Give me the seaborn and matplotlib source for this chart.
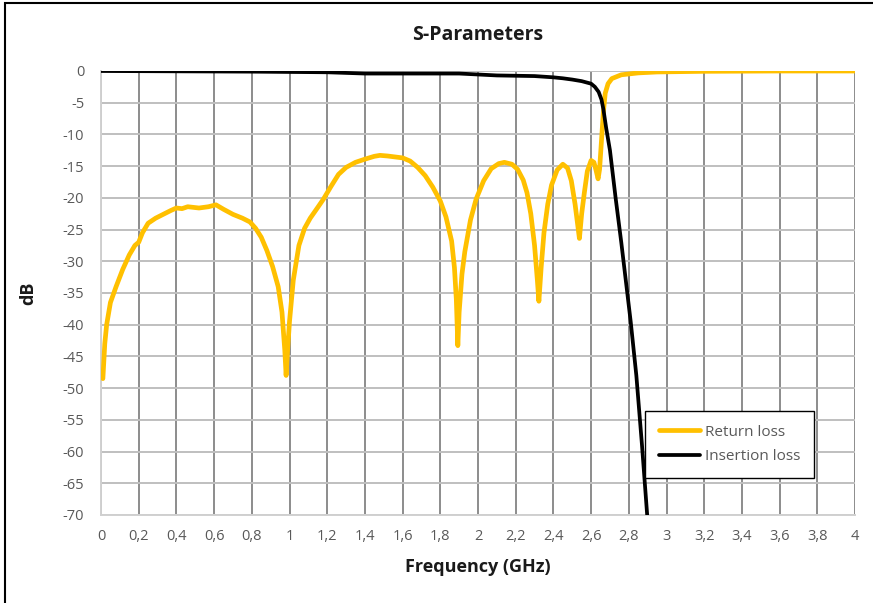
import matplotlib
matplotlib.use("Agg")
import matplotlib.pyplot as plt
import matplotlib.ticker as mticker
from matplotlib.patches import Rectangle
import seaborn as sns
import pandas as pd

# ---- data ----
rl_freq = [0.01, 0.02, 0.03, 0.05, 0.08, 0.115, 0.15, 0.18, 0.2, 0.22, 0.25, 0.29, 0.33, 0.37,
           0.4, 0.43, 0.46, 0.52, 0.57, 0.61, 0.65, 0.70, 0.75, 0.79, 0.82, 0.85, 0.88, 0.91,
           0.94, 0.96, 0.975, 0.982, 0.99, 1.0, 1.02, 1.05, 1.08, 1.11, 1.15, 1.18, 1.22, 1.26,
           1.30, 1.35, 1.40, 1.45, 1.48, 1.52, 1.6, 1.64, 1.68, 1.72, 1.76, 1.80, 1.83, 1.86,
           1.875, 1.885, 1.893, 1.90, 1.915, 1.93, 1.96, 1.99, 2.03, 2.07, 2.11, 2.14, 2.18,
           2.21, 2.24, 2.26, 2.28, 2.30, 2.315, 2.323, 2.335, 2.35, 2.37, 2.39, 2.42, 2.45,
           2.475, 2.495, 2.515, 2.53, 2.538, 2.55, 2.565, 2.58, 2.60, 2.615, 2.625, 2.637,
           2.645, 2.655, 2.665, 2.675, 2.69, 2.71, 2.76, 2.85, 2.95, 3.2, 3.6, 4.0]
rl_db = [-48.5, -43, -40, -36.5, -34, -31.3, -29, -27.5, -27, -25.5, -24, -23.2, -22.6, -22,
         -21.6, -21.7, -21.4, -21.6, -21.4, -21.1, -21.8, -22.6, -23.2, -23.8, -24.8, -26.2,
         -28.3, -30.8, -34, -38, -44, -48, -44, -39.5, -33, -27.5, -24.8, -23.2, -21.5, -20.2,
         -18.2, -16.3, -15.2, -14.4, -13.9, -13.45, -13.3, -13.4, -13.7, -14.2, -15.2, -16.5,
         -18.3, -20.5, -23, -26.8, -31, -36, -43.3, -38, -32, -28.5, -23.5, -20.2, -17.3,
         -15.4, -14.6, -14.4, -14.7, -15.5, -17.2, -19.2, -22.5, -27.5, -33, -36.3, -31,
         -25.5, -21, -18, -15.6, -14.7, -15.3, -17.3, -21, -24.5, -26.4, -22.5, -19, -15.8,
         -14.1, -14.4, -15.5, -17, -15.5, -11, -6.5, -3.5, -2, -1.2, -0.6, -0.3, -0.15,
         -0.05, 0, 0]

il_freq = [0, 0.4, 0.8, 1.0, 1.2, 1.4, 1.6, 1.8, 1.9, 2.0, 2.1, 2.2, 2.3, 2.4, 2.45, 2.5,
           2.55, 2.6, 2.62, 2.64, 2.655, 2.665, 2.68, 2.70, 2.73, 2.76, 2.79, 2.81, 2.84,
           2.87, 2.905]
il_db = [0, -0.05, -0.1, -0.15, -0.2, -0.4, -0.4, -0.4, -0.4, -0.55, -0.7, -0.75, -0.8,
         -1.0, -1.15, -1.35, -1.6, -2.0, -2.5, -3.3, -4.5, -6, -9, -12.5, -20, -27, -34.5,
         -39.5, -48, -59, -73]

series_names = ["Return loss", "Insertion loss"]
series_colors = ["#FFC000", "#000000"]

title = "S-Parameters"
xlabel = "Frequency (GHz)"
ylabel = "dB"
x_ticks = [round(0.2 * i, 1) for i in range(21)]
y_ticks = list(range(0, -75, -5))

# ---- figure ----
sns.set_theme(style="white")
plt.rcParams["font.family"] = ["Open Sans", "DejaVu Sans"]
plt.rcParams["axes.unicode_minus"] = False

W, H = 873, 603
fig = plt.figure(figsize=(W / 100, H / 100), dpi=100)
fig.patch.set_facecolor("white")
ax = fig.add_axes([101 / W, 1 - 515 / H, (855 - 101) / W, (515 - 71) / H])

# outer chart border (only left and top visible in reference)
fig.add_artist(Rectangle((5 / W, -0.05), 1.2, 1.05 - 3 / H, transform=fig.transFigure,
                         fill=False, edgecolor="black", linewidth=1.5))

df_rl = pd.DataFrame({"f": rl_freq, "db": rl_db})
df_il = pd.DataFrame({"f": il_freq, "db": il_db})

sns.lineplot(data=df_rl, x="f", y="db", ax=ax, color=series_colors[0], linewidth=3.4,
             label=series_names[0], sort=False, zorder=3)
sns.lineplot(data=df_il, x="f", y="db", ax=ax, color=series_colors[1], linewidth=2.7,
             label=series_names[1], sort=False, zorder=4)

ax.set_xlim(0, 4)
ax.set_ylim(-70, 0)
ax.set_xticks(x_ticks)
ax.set_yticks(y_ticks)
ax.xaxis.set_major_formatter(mticker.FuncFormatter(lambda v, p: f"{v:g}".replace(".", ",")))
ax.yaxis.set_major_formatter(mticker.FuncFormatter(lambda v, p: f"{v:g}"))

ax.grid(False)
ax.xaxis.grid(True, color="#8c8c8c", linewidth=1.4)
ax.yaxis.grid(True, color="#bfbfbf", linewidth=1.4)
ax.set_axisbelow(True)
for s in ["top", "right"]:
    ax.spines[s].set_visible(False)
for s in ["left", "bottom"]:
    ax.spines[s].set_color("#d0d0d0")
    ax.spines[s].set_linewidth(1.4)
    ax.spines[s].set_zorder(2.5)

ax.tick_params(axis="both", length=0, labelsize=10.5, labelcolor="#595959")
ax.tick_params(axis="x", pad=10)
ax.tick_params(axis="y", pad=12)

ax.set_title(title, fontsize=14, fontweight="bold", color="#1a1a1a", pad=22)
ax.set_xlabel(xlabel, fontsize=13, fontweight="bold", color="#1a1a1a", labelpad=10)
ax.set_ylabel(ylabel, fontsize=13, fontweight="bold", color="#1a1a1a", labelpad=18)

leg = ax.legend(loc="upper left", bbox_to_anchor=((645 - 101) / 754, (515 - 411) / 444),
                borderaxespad=0, frameon=True, fancybox=False, framealpha=1,
                edgecolor="black", fontsize=11, handlelength=2.7, handletextpad=0.3,
                labelspacing=0.6, borderpad=0.9)
leg.get_frame().set_linewidth(1.0)
for t in leg.get_texts():
    t.set_color("#595959")

fig.savefig("out.png", dpi=100, facecolor="white")
